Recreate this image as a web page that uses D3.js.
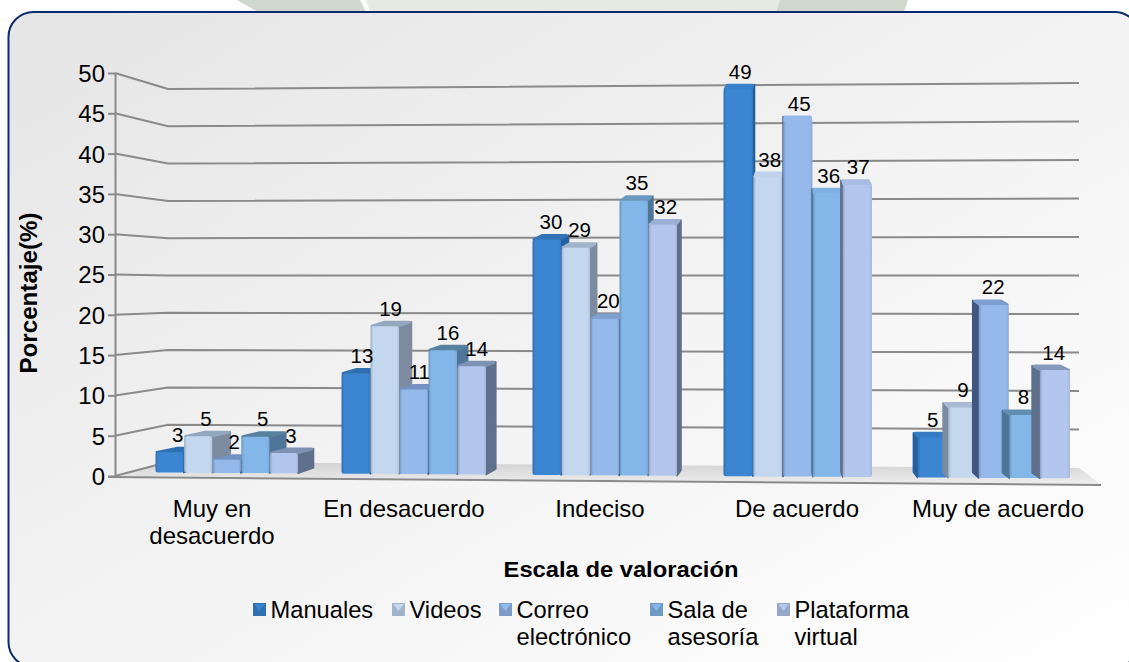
<!DOCTYPE html>
<html><head><meta charset="utf-8">
<script src="https://cdnjs.cloudflare.com/ajax/libs/d3/7.8.5/d3.min.js"></script>
<style>html,body{margin:0;padding:0;background:#fff;overflow:hidden}svg{display:block}text{font-family:"Liberation Sans",Arial,sans-serif;fill:#000}</style>
</head><body><div id="c"></div>
<script>
const categories=[["Muy en","desacuerdo"],["En desacuerdo"],["Indeciso"],["De acuerdo"],["Muy de acuerdo"]];
const seriesNames=[["Manuales"],["Videos"],["Correo","electrónico"],["Sala de","asesoría"],["Plataforma","virtual"]];
const manuales=[2.55,12.7,29.8,49,5.1];
const videos=[4.6,18.7,28.8,37.9,8.9];
const correo=[1.65,10.7,19.8,45,21.9];
const sala=[4.6,15.7,34.8,35.9,8];
const plataforma=[2.55,13.7,31.8,37,13.7];
const yTicks=d3.range(0,51,5);
const faceColors=["#3b86d2","#c3d7ef","#95b9eb","#84b7e9","#b3c7ee"];
const sideColors=["#22609f","#7c8b9f","#3f5780","#4f7498","#5f6f8c"];
const topColors=["#2f6fb0","#94a6bd","#7392c2","#56819f","#7e92b4"];

const W=1129,H=662;
const svg=d3.select("#c").append("svg").attr("width",W).attr("height",H);
const defs=svg.append("defs");
const bg=defs.append("linearGradient").attr("id","bg").attr("x1",0).attr("y1",0).attr("x2",1).attr("y2",1);
bg.append("stop").attr("offset",0).attr("stop-color","#e5e5e5");
bg.append("stop").attr("offset",.5).attr("stop-color","#f3f3f3");
bg.append("stop").attr("offset",1).attr("stop-color","#ffffff");
const fl=defs.append("linearGradient").attr("id","fl").attr("x1",0).attr("y1",0).attr("x2",0).attr("y2",1);
fl.append("stop").attr("offset",0).attr("stop-color","#d2d2d2");
fl.append("stop").attr("offset",1).attr("stop-color","#eeeeee");
defs.append("filter").attr("id","b").append("feGaussianBlur").attr("stdDeviation",.5);
faceColors.forEach((c,i)=>{
  const g=defs.append("linearGradient").attr("id","f"+i);
  g.append("stop").attr("offset",0).attr("stop-color",d3.color(c).darker(.6));
  g.append("stop").attr("offset",.1).attr("stop-color",c);
  g.append("stop").attr("offset",.9).attr("stop-color",c);
  g.append("stop").attr("offset",1).attr("stop-color",d3.color(c).darker(.25));
});

// watermark + panel
svg.append("path").attr("d","M237 0L258 12H366L360 0Z").attr("fill","#d0d7cc");
svg.append("path").attr("d","M366 0L370 12H776L780 0Z").attr("fill","#e6eae2");
svg.append("path").attr("d","M780 0L776 12H904L908 0Z").attr("fill","#d0d7cc");
svg.append("rect").attr("x",8.5).attr("y",12).attr("width",1131).attr("height",655).attr("rx",25)
  .attr("fill","url(#bg)").attr("stroke","#0b2a6f").attr("stroke-width",2);

// scales
const yFront=d3.scaleLinear().domain([0,50]).range([476,73]);
const yBackL=d3.scaleLinear().domain([0,50]).range([462,89]);
const yBackR=d3.scaleLinear().domain([0,50]).range([468,83]);
const height=d3.scaleLinear().domain([0,50]).range([0,395]);
const groupCenter=d3.scaleOrdinal().domain(d3.range(5)).range([227,414,605,798,994]);
const groupWidth=d3.scaleOrdinal().domain(d3.range(5)).range([143,145,145,149,153]);
const baseY=d3.scaleLinear().domain([155,1070]).range([472.5,478.5]);
const depthX=d3.scaleLinear().domain([170,1060]).range([19,-8]);
const depthY=5.5;
const xL=115,xBL=168,xBR=1079;
const gray="#8a8a8a";

const g=svg.append("g");
g.append("path").attr("d",`M${xL} ${yFront(0)}L${xBL} ${yBackL(0)}L${xBR} ${yBackR(0)}L1092 478L1101 484Z`).attr("fill","url(#fl)");
const grid=g.append("g").attr("filter","url(#b)").attr("fill","none").attr("stroke",gray).attr("stroke-width",2);
grid.selectAll("path").data(yTicks.filter(d=>d>0)).join("path")
  .attr("d",d=>`M${xL} ${yFront(d)}L${xBL} ${yBackL(d)}L${xBR} ${yBackR(d)}`);
grid.append("path").attr("d",`M${xL} ${yFront(0)}L${xBL} ${yBackL(0)}`);
const axis=g.append("g").attr("transform",`translate(${xL},0)`)
  .call(d3.axisLeft(yFront).tickValues(yTicks).tickSize(7).tickPadding(3).tickSizeOuter(0));
axis.select(".domain").attr("stroke",gray).attr("stroke-width",2);
axis.selectAll(".tick line").attr("stroke",gray).attr("stroke-width",2);
axis.selectAll(".tick text").attr("font-size",24).attr("font-family",'"Liberation Sans"').attr("fill","#000")
  .attr("dy","0.35em");
g.append("path").attr("d",`M108 477L1101 485`).attr("stroke",gray).attr("stroke-width",2).attr("filter","url(#b)");

// bars
const allSeries=[manuales,videos,correo,sala,plataforma];
const bars=[];
allSeries.forEach((vals,s)=>vals.forEach((v,c)=>bars.push({s,c,v})));
const bar=g.append("g").selectAll("g").data(bars.slice().sort((a,b)=>(a.c-b.c)||(a.s-b.s))).join("g").attr("filter","url(#b)");
bar.each(function(d){
  const gw=groupWidth(d.c), xb=d3.scaleBand().domain(d3.range(5)).range([-gw/2,gw/2]);
  const x0=groupCenter(d.c)+xb(d.s);
  const w=xb.bandwidth()-0.5, x1=x0+w;
  const by=baseY(x0), ty=by-height(d.v);
  const dx=depthX(x0+w/2), dy=depthY;
  const sel=d3.select(this);
  const sx=dx>=0?x1:x0;
  const capCol=d3.interpolateRgb(faceColors[d.s],topColors[d.s])(Math.min(1,Math.abs(dx)/9));
  sel.append("path").attr("d",`M${sx} ${ty}L${sx+dx} ${ty-dy+1}L${sx+dx} ${by-dy}L${sx} ${by}Z`)
    .attr("fill",sideColors[d.s]).attr("stroke",sideColors[d.s]).attr("stroke-linejoin","round").attr("stroke-width",1.5);
  sel.append("path").attr("d",`M${x0+1.5} ${ty}L${x0+dx+2} ${ty-dy+1.5}L${x1+dx-2} ${ty-dy+1.5}L${x1-1.5} ${ty}Z`)
    .attr("fill",capCol).attr("stroke",capCol).attr("stroke-linejoin","round").attr("stroke-width",3);
  sel.append("rect").attr("x",x0).attr("y",ty).attr("width",w).attr("height",by-ty).attr("rx",2.5)
    .attr("fill",`url(#f${d.s})`);
  d.lx=x0+w/2+dx*.35+1.5; d.ly=ty-dy-5;
});
g.append("g").selectAll("text").data(bars).join("text").text(d=>d3.format(".0f")(d.v))
  .attr("font-size",20.5).attr("text-anchor","middle").attr("x",d=>d.lx).attr("y",d=>d.ly);

// category labels
const catCenter=d3.scaleOrdinal().domain(d3.range(5)).range([212,404,600,797,998]);
g.append("g").selectAll("g").data(categories).join("g").each(function(lines,i){
  d3.select(this).selectAll("text").data(lines).join("text").text(t=>t)
   .attr("font-size",24).attr("text-anchor","middle")
   .attr("x",catCenter(i)).attr("y",(t,k)=>517+k*27);
});
// titles
svg.append("text").text("Escala de valoración").attr("font-weight","bold").attr("font-size",22).attr("text-anchor","middle")
  .attr("transform","translate(621,577) scale(1.08,1)");
svg.append("text").text("Porcentaje(%)").attr("font-weight","bold").attr("font-size",23).attr("text-anchor","middle")
  .attr("transform","translate(37,293) rotate(-90) scale(1.05,1)");
// legend
const legendX=d3.scaleOrdinal().domain(d3.range(5)).range([253,392,499,650,777]);
const lg=svg.append("g").selectAll("g").data(seriesNames).join("g").attr("transform",(d,i)=>`translate(${legendX(i)},0)`);
lg.append("rect").attr("y",603).attr("width",13).attr("height",13).attr("fill",(d,i)=>d3.color(faceColors[i]).darker(.5));
lg.append("path").attr("d","M1 604H12L6.5 611Z").attr("fill",(d,i)=>faceColors[i]);
lg.each(function(lines){
  d3.select(this).selectAll("text").data(lines).join("text").text(t=>t).attr("font-size",23.7)
    .attr("x",17.5).attr("y",(t,k)=>618+k*27);
});
</script></body></html>
